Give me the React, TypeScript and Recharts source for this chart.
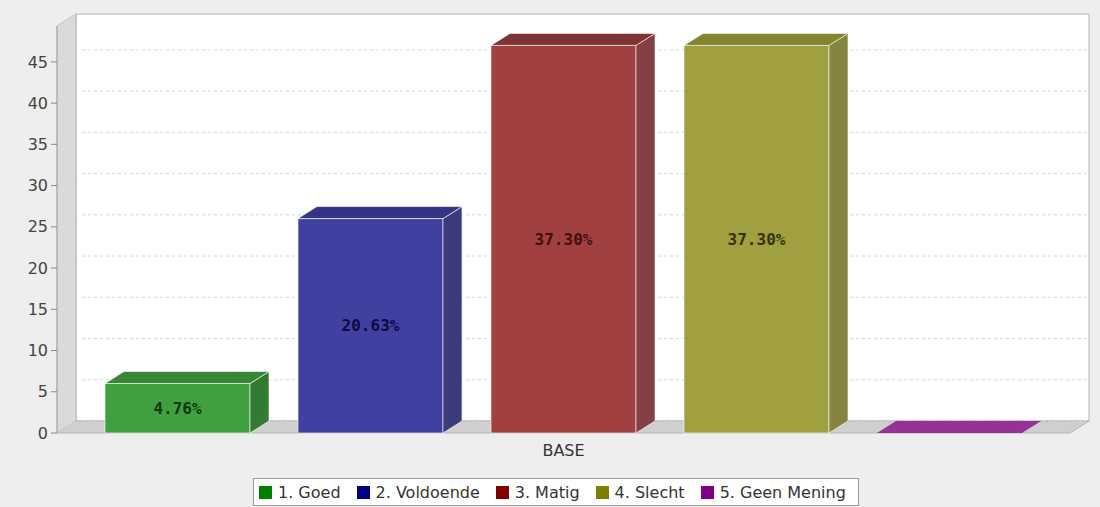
import { Bar, BarChart, CartesianGrid, LabelList, Legend, ReferenceArea, XAxis, YAxis } from 'recharts';

const categories = ['BASE'];
const seriesNames = ['1. Goed', '2. Voldoende', '3. Matig', '4. Slecht', '5. Geen Mening'];
const seriesValues = [6, 26, 47, 47, 0];
const yTicks = [0, 5, 10, 15, 20, 25, 30, 35, 40, 45];
const Y_MAX = 49.35;

// legend swatches use the base colour, the bars are those at ~75% over white
const baseColors = ['#008000', '#000080', '#800000', '#808000', '#800080'];
const frontColors = ['#40a040', '#4040a0', '#a04040', '#a0a040', '#a040a0'];
const topColors = ['#368636', '#343486', '#7c3434', '#84842f', '#963296'];
const sideColors = ['#317b33', '#3c3c7c', '#844044', '#85853f', '#853585'];
const labelColors = ['#0c3a0c', '#0c0c40', '#460e0e', '#33330c', '#330c33'];

const DX = 19;
const DY = 12;
const FONT = '"DejaVu Sans", Verdana, sans-serif';

const keys = seriesNames.map((_, i) => `s${i}`);
const total = seriesValues.reduce((a, b) => a + b, 0);
const data = categories.map((name) => {
  const row: Record<string, string | number> = { name };
  keys.forEach((k, i) => (row[k] = seriesValues[i]));
  return row;
});

const pts = (list: number[][]) => list.map((p) => p.join(',')).join(' ');

function makeBox(i: number) {
  return (props: any) => {
    const { x, y, width, height } = props;
    const r = x + width;
    const b = y + height;
    const edge = 'rgba(255,255,255,0.6)';
    return (
      <g>
        {height > 0 && <rect x={x} y={y} width={width} height={height} fill={frontColors[i]} stroke={edge} />}
        {height > 0 && (
          <polygon points={pts([[r, y], [r + DX, y - DY], [r + DX, b - DY], [r, b]])} fill={sideColors[i]} stroke={edge} />
        )}
        <polygon points={pts([[x, y], [x + DX, y - DY], [r + DX, y - DY], [r, y]])} fill={topColors[i]} stroke={height > 0 ? edge : 'none'} />
      </g>
    );
  };
}

function Walls(props: any) {
  const { x, y, width, height } = props;
  const r = x + width;
  const b = y + height;
  return (
    <g>
      <polygon points={pts([[x + DX, y - DY], [r + DX, y - DY], [r + DX, b - DY], [x + DX, b - DY]])} fill="#ffffff" stroke="#b4b4b4" />
      <polygon points={pts([[x, y], [x + DX, y - DY], [x + DX, b - DY], [x, b]])} fill="#dadada" stroke="#b4b4b4" />
      <polygon points={pts([[x, b], [x + DX, b - DY], [r + DX, b - DY], [r, b]])} fill="#cfcfcf" stroke="#b4b4b4" />
    </g>
  );
}

function gridLine(p: any) {
  return (
    <g key={p.key}>
      <line x1={p.x1} y1={p.y1} x2={p.x1 + DX} y2={p.y1 - DY} stroke="#d6d6d6" strokeWidth={0.8} />
      <line x1={p.x1 + DX + 6} y1={p.y1 - DY} x2={p.x2 + DX} y2={p.y2 - DY} stroke="#d4d4d4" strokeDasharray="3 3" />
    </g>
  );
}

function renderLabel(i: number) {
  return (p: any) => {
    const v = Number(p.value);
    if (!v) return null;
    return (
      <text
        x={p.x + p.width / 2}
        y={p.y + p.height / 2}
        textAnchor="middle"
        dominantBaseline="central"
        fill={labelColors[i]}
        style={{ fontFamily: '"DejaVu Sans Mono", monospace', fontWeight: 'bold', fontSize: 16 }}
      >
        {((v / total) * 100).toFixed(2)}%
      </text>
    );
  };
}

function LegendBox() {
  return (
    <div
      style={{
        display: 'inline-flex',
        alignItems: 'center',
        height: 26,
        padding: '0 12px 0 5px',
        border: '1px solid #9a9a9a',
        background: '#ffffff',
        fontFamily: FONT,
        fontSize: 16,
        color: '#333',
        whiteSpace: 'nowrap',
      }}
    >
      {seriesNames.map((name, i) => (
        <span key={name} style={{ display: 'inline-flex', alignItems: 'center', marginLeft: i ? 16 : 0 }}>
          <span style={{ width: 13, height: 13, background: baseColors[i], marginRight: 6, display: 'inline-block' }} />
          {name}
        </span>
      ))}
    </div>
  );
}

export default function App() {
  return (
    <div style={{ width: 1100, height: 507, background: '#eeeeee' }}>
      <style>{'body{margin:0}'}</style>
      <BarChart
        width={1100}
        height={507}
        data={data}
        margin={{ top: 26, right: 30, left: 0, bottom: 0 }}
        barCategoryGap={48}
        barGap={48}
      >
        <ReferenceArea y1={0} y2={Y_MAX} shape={Walls} ifOverflow="visible" zIndex={-150} />
        <CartesianGrid vertical={false} horizontal={gridLine} />
        <XAxis
          dataKey="name"
          axisLine={false}
          tickLine={false}
          tickSize={6}
          tickMargin={6}
          height={46}
          tick={{ fill: '#333', fontSize: 16, fontFamily: FONT }}
        />
        <YAxis
          domain={[0, Y_MAX]}
          ticks={yTicks}
          width={57}
          axisLine={{ stroke: '#aaaaaa' }}
          tickLine={{ stroke: '#888888' }}
          tickSize={6}
          tickMargin={3}
          tick={{ fill: '#444', fontSize: 16, fontFamily: FONT }}
        />
        {keys.map((k, i) => (
          <Bar key={k} dataKey={k} name={seriesNames[i]} fill={frontColors[i]} shape={makeBox(i)} isAnimationActive={false}>
            <LabelList dataKey={k} content={renderLabel(i)} />
          </Bar>
        ))}
        <Legend
          verticalAlign="bottom"
          content={<LegendBox />}
          wrapperStyle={{ left: 253, width: 640, bottom: 1, height: 28 }}
        />
      </BarChart>
    </div>
  );
}
